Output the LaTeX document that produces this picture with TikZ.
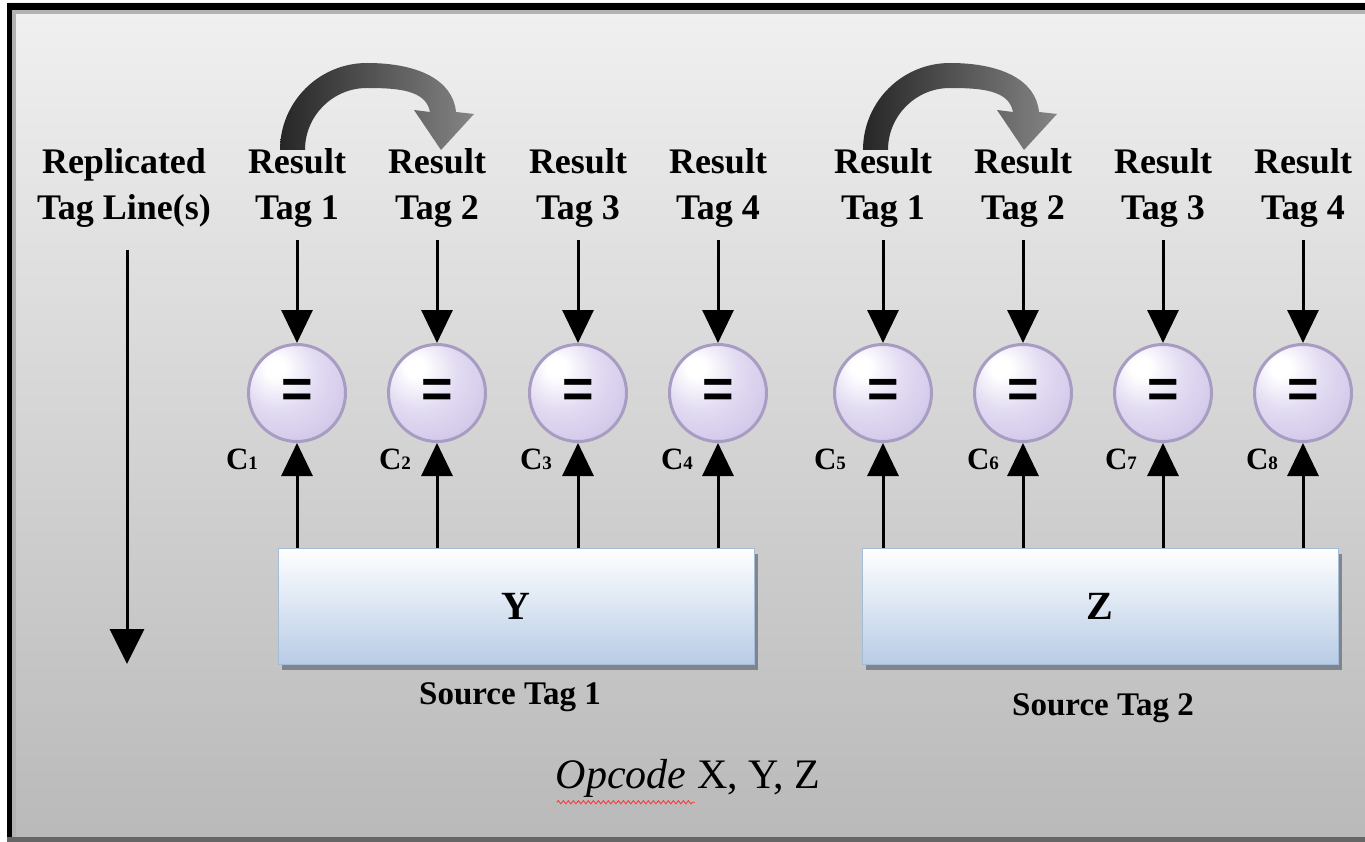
\documentclass[tikz,border=0pt]{standalone}
\usepackage{fontspec}
\setmainfont{Liberation Serif}
\newfontfamily\eqfont{Liberation Sans}
\usetikzlibrary{arrows.meta,shadows,decorations.pathmorphing}
\definecolor{bgbot}{RGB}{157,157,157}
\definecolor{lavmid}{RGB}{226,219,242}
\definecolor{lavdark}{RGB}{200,190,228}
\definecolor{lavborder}{RGB}{168,156,194}
\definecolor{boxblue}{RGB}{184,204,230}
\definecolor{boxedge}{RGB}{165,188,216}
\definecolor{shadowc}{RGB}{110,116,128}
\pgfdeclareverticalshading{bgshade}{100bp}{color(0bp)=(bgbot); color(88bp)=(white); color(100bp)=(white)}
\pgfdeclareradialshading{lavball}{\pgfpoint{-12bp}{14bp}}{color(0bp)=(white); color(5bp)=(white); color(20bp)=(lavmid); color(45bp)=(lavdark); color(90bp)=(lavdark)}
\tikzset{
  turn/.pic={
    \shade[left color=black!85, right color=black!48]
      (-88,-30) arc[start angle=180,end angle=90,radius=87]
      .. controls (50,57) and (85,40) .. (88,8)
      -- (106,6) -- (73,-30) -- (46,10) -- (62,8)
      .. controls (58,30) and (30,32) .. (-1,32)
      arc[start angle=90,end angle=180,radius=62] -- cycle;
  }
}
\begin{document}
\begin{tikzpicture}[x=1pt,y=1pt,
  lbl/.style={font=\fontsize{36}{46}\selectfont\bfseries, align=center, inner sep=0pt},
  cmp/.style={circle, minimum size=97pt, inner sep=0pt, line width=3pt, draw=lavborder, shade, shading=lavball, font=\eqfont\fontsize{54}{54}\selectfont\bfseries},
  arr/.style={line width=3pt, -{Triangle[length=33pt,width=31pt]}},
  srcbox/.style={rectangle, minimum width=476pt, minimum height=116pt, top color=white, bottom color=boxblue, draw=boxedge, line width=1pt, font=\fontsize{40}{40}\selectfont\bfseries, drop shadow={shadow xshift=4pt, shadow yshift=-6pt, fill=shadowc, opacity=0.8}},
  clbl/.style={inner sep=0pt, font=\bfseries},
  src/.style={font=\fontsize{33}{33}\selectfont\bfseries, inner sep=0pt}]
\useasboundingbox (0,0) rectangle (1365,-842);
% background and frame
\shade[shading=bgshade] (8,-3) rectangle (1365,-842);
\fill[black!30] (12,-10) rectangle (1365,-14);
\fill[black!30] (12,-10) rectangle (16,-842);
\fill[black] (7,-3) rectangle (1365,-10);
\fill[black] (7,-3) rectangle (12,-842);
\fill[black!60] (7,-837) rectangle (1365,-842);
% curved arrows
\pic at (368,-120) {turn};
\pic at (951,-120) {turn};
% labels
\node[lbl] (rep) at (124,-188) {Replicated\\Tag Line(s)};
\coordinate (repend) at (127,-664);
\draw[line width=3pt, -{Triangle[length=35pt,width=34pt]}] ([yshift=-22pt]rep.south -| repend) -- (repend);
% boxes
\node[srcbox] (Y) at (516,-606) {Y};
\node[srcbox] (Z) at (1100,-606) {Z};
\node[src] (s1) at (510,-697) {Source Tag 1};
\node[src] (s2) at (1103,-708) {Source Tag 2};
% columns
\foreach \i/\x/\n/\b in {1/297/1/Y,2/437/2/Y,3/578/3/Y,4/718/4/Y,5/883/1/Z,6/1023/2/Z,7/1163/3/Z,8/1303/4/Z}{
  \node[lbl] (r\i) at (\x,-188) {Result\\Tag \n};
  \node[cmp] (e\i) at (\x,-393) {=};
  \draw[arr] ([yshift=-12pt]r\i.south) -- (e\i);
  \draw[arr] (e\i |- \b.north) -- (e\i);
}
\foreach \i/\x in {1/242,2/395,3/536,4/677,5/830,6/983,7/1121,8/1262}{
  \node[clbl] (c\i) at (\x,-459) {{\fontsize{31}{31}\selectfont C}{\fontsize{19}{19}\selectfont \i}};
}
% bottom text
\node[inner sep=0pt, font=\fontsize{42}{42}\selectfont] (opc) at (688,-778) {{\itshape Opcode} X, Y, Z};
\draw[red!80, line width=0.8pt, decorate, decoration={snake, amplitude=1.6pt, segment length=5pt}]
  ([xshift=1pt,yshift=-5pt]opc.south west) -- ([xshift=139pt,yshift=-5pt]opc.south west);
\end{tikzpicture}
\end{document}
